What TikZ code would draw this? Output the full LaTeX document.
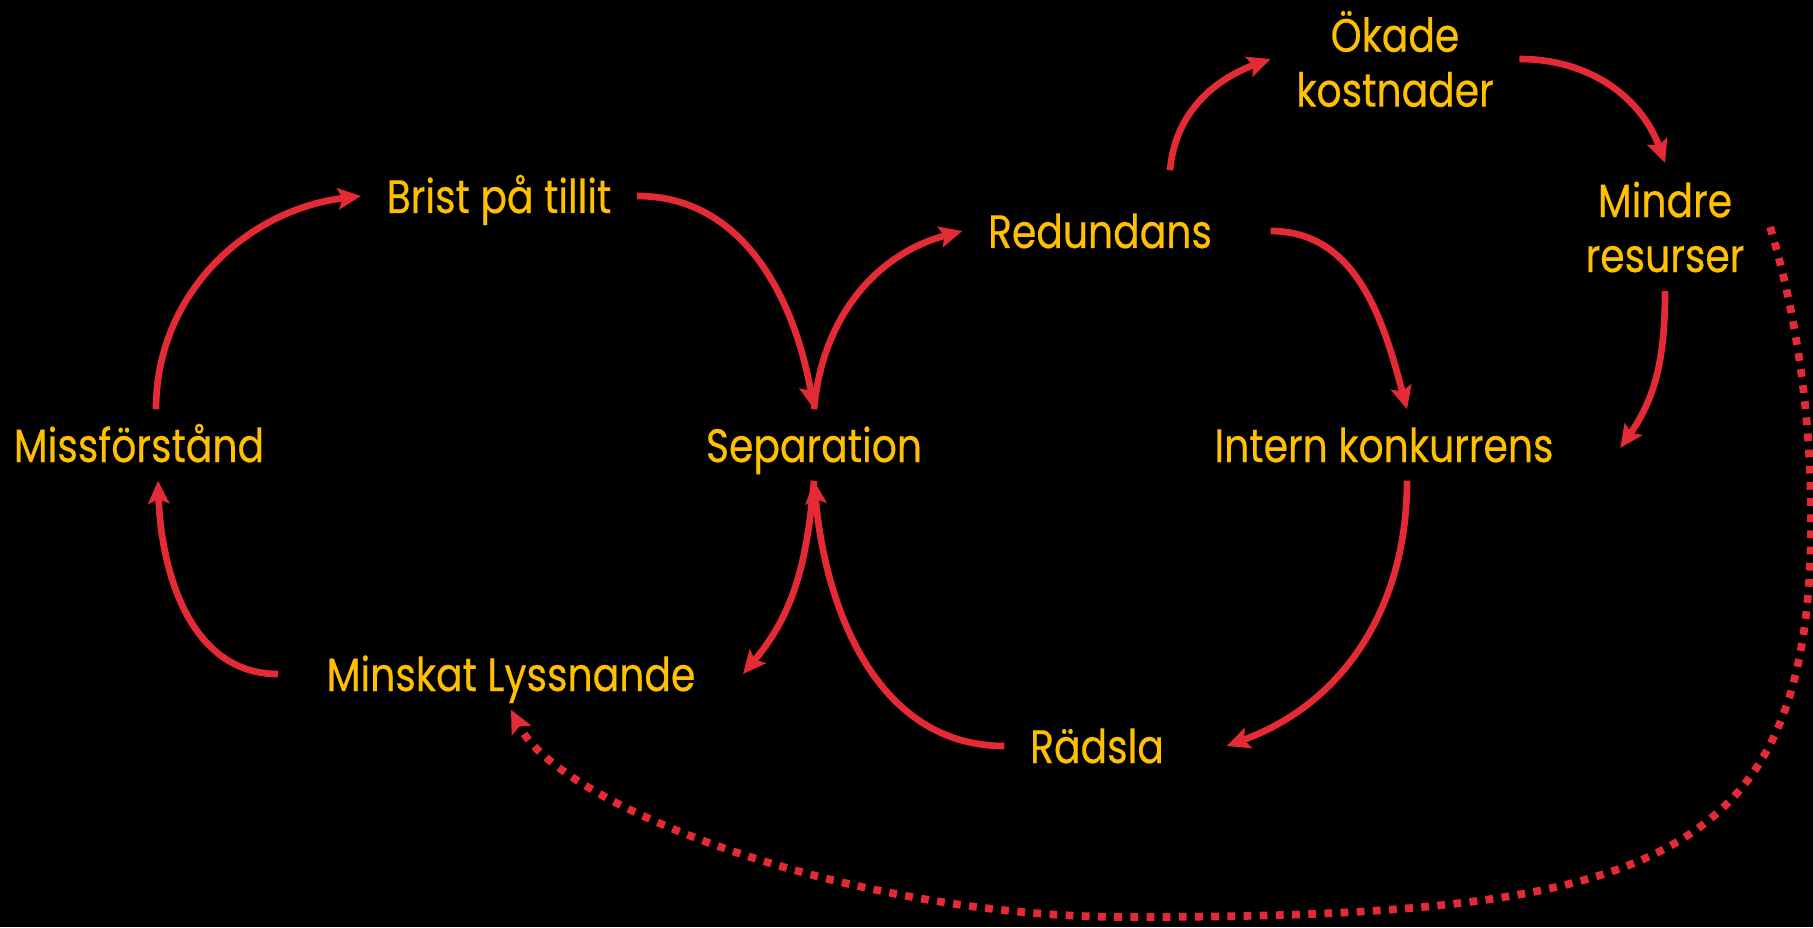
\documentclass[tikz,border=0pt]{standalone}
\usepackage{fontspec}
\setmainfont{Poppins}[FakeStretch=0.84, FakeBold=0.4]
\usepackage{tikz}
\usetikzlibrary{arrows.meta, positioning, calc}
\definecolor{loopred}{HTML}{E42A35}
\definecolor{gold}{HTML}{FFC000}

\begin{document}
\begin{tikzpicture}[x=0.01cm, y=0.01cm,
    txt/.style={text=gold, font=\fontsize{13.3}{15.6}\selectfont, inner xsep=0.25cm, inner ysep=0.18cm},
    lbl/.style={txt, text height=0.34cm, text depth=0pt, anchor=base},
    lbl2/.style={txt, align=center},
    arr/.style={draw=loopred, line width=1.9pt, -{Stealth[length=6.5pt, width=6pt, inset=1.2pt]}},
    dotarr/.style={arr, line width=2.2pt, dash pattern=on 2.2pt off 2.4pt}]
\useasboundingbox (0,0) rectangle (1813,927);
\fill[black] (0,0) rectangle (1813,927);

% left loop
\node[lbl] (miss) at (139,465) {Missförstånd};
\node[lbl] (brist) at (499,714) {Brist på tillit};
\node[lbl] (sep) at (814,465) {Separation};
\node[lbl] (minskat) at (511,236) {Minskat Lyssnande};

% right loop
\node[lbl] (red) at (1100,679) {Redundans};
\node[lbl] (intern) at (1384,465) {Intern konkurrens};
\node[lbl] (radsla) at (1097,164) {Rädsla};
\node[lbl2] (okade) at (1395,868) {Ökade\\kostnader};
\node[lbl2] (mindre) at (1665,700) {Mindre\\resurser};

\draw[arr] ($(miss.north)+(17,0)$) to[out=90,in=187] (brist.west);
\draw[arr] (brist.east) to[out=0,in=100] (sep.north);
\draw[arr] ($(minskat.west)+(-23,0)$) to[out=180,in=-88] ($(miss.south)+(19,0)$);
\draw[arr] (sep.south) to[out=-95,in=50] ($(minskat.east)+(22,0)$);

\draw[arr] (sep.north) to[out=85,in=195] (red.west);
\draw[arr] ($(red.east)+(33,0)$) to[out=0,in=105] ($(intern.north)+(23,0)$);
\draw[arr] ($(intern.south)+(23,0)$) to[out=-90,in=20] ($(radsla.east)+(37,0)$);
\draw[arr] (radsla.west) to[out=180,in=-85] (sep.south);

% costs
\draw[arr] ($(red.north)+(70,25)$) to[out=85,in=200] (okade.west);
\draw[arr] (okade.east) to[out=0,in=110] (mindre.north);
\draw[arr] (mindre.south) to[out=-90,in=55] ($(intern.east)+(41,-3)$);

% long way round
\draw[dotarr] (mindre.east) .. controls +(24,-80) and (1811,520) .. (1811,407)
  .. controls (1811,60) and (1650,10) .. (1127,10)
  .. controls (850,10) and (560,120) .. (minskat.south);
\end{tikzpicture}
\end{document}
